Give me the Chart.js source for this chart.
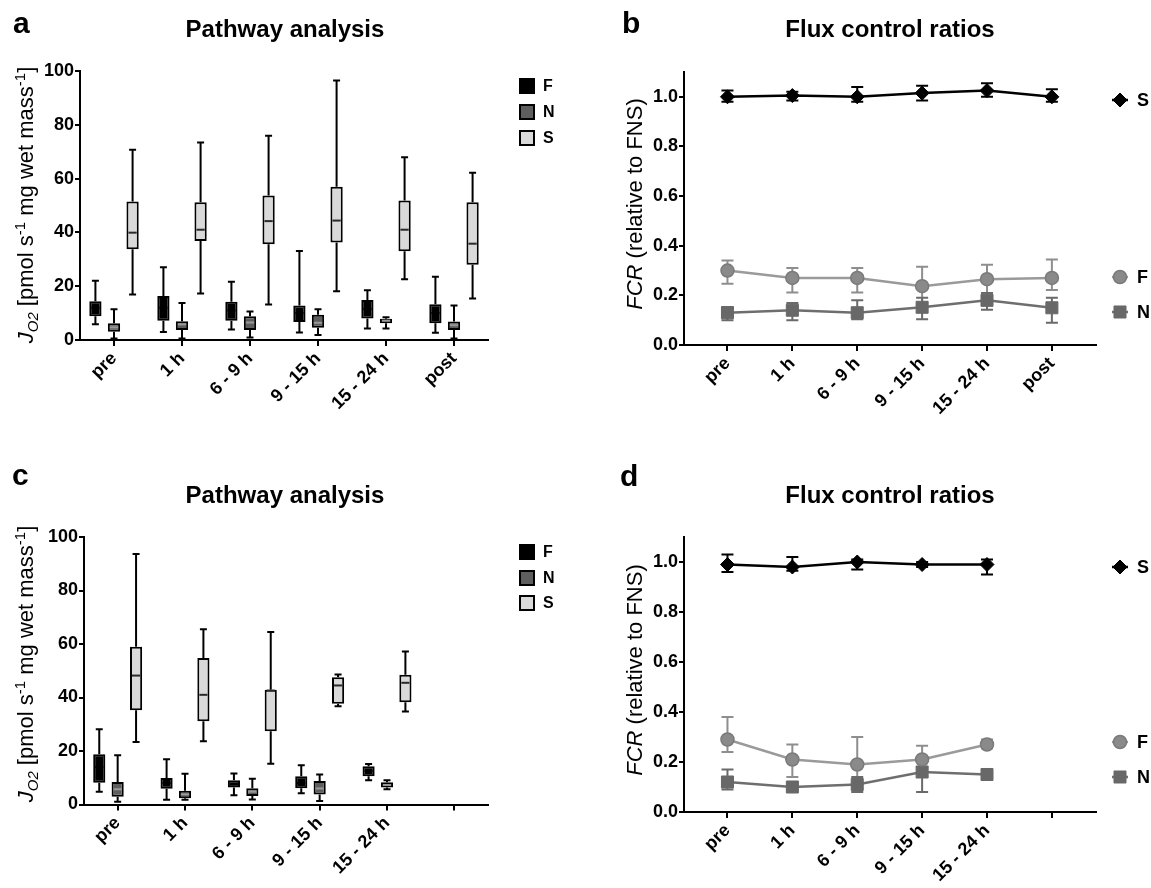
<!DOCTYPE html>
<html><head><meta charset="utf-8">
<script src="https://cdn.jsdelivr.net/npm/chart.js@4.4.1/dist/chart.umd.min.js"></script>
<style>
body{margin:0;background:#fff;width:1151px;height:888px;position:relative;overflow:hidden}
canvas{position:absolute;display:block}
</style>
</head><body>
<canvas id="ca" width="560" height="440" style="left:0;top:0"></canvas>
<canvas id="cb" width="591" height="440" style="left:560px;top:0"></canvas>
<canvas id="cc" width="560" height="448" style="left:0;top:440px"></canvas>
<canvas id="cd" width="591" height="448" style="left:560px;top:440px"></canvas>
<script>
// ---------- categories & tick labels ----------
const categoriesAB = ['pre', '1 h', '6 - 9 h', '9 - 15 h', '15 - 24 h', 'post'];
const categoriesCD = ['pre', '1 h', '6 - 9 h', '9 - 15 h', '15 - 24 h', ''];
const seriesNames = ['F', 'N', 'S'];
const yTicksJ = [0, 20, 40, 60, 80, 100];
const yTicksFCR = [0, 0.2, 0.4, 0.6, 0.8, 1.0];

// ---------- panel a: box plots (min, q1, median, q3, max) ----------
const aF_min = [5.9, 3.0, 3.9, 2.8, 4.3, 2.7];
const aF_q1  = [8.8, 7.2, 7.2, 6.7, 8.0, 6.2];
const aF_med = [12.0, 12.0, 11.0, 10.0, 11.5, 10.0];
const aF_q3  = [14.4, 16.4, 14.2, 12.8, 14.9, 13.3];
const aF_max = [22.0, 27.0, 21.7, 33.1, 18.5, 23.5];

const aN_min = [0.6, 0.6, 0.9, 1.9, 4.3, 0.6];
const aN_q1  = [3.1, 3.7, 3.7, 4.6, 6.2, 3.7];
const aN_med = [4.7, 5.8, 6.5, 6.4, 7.2, 5.5];
const aN_q3  = [6.2, 7.0, 8.8, 9.4, 7.9, 6.9];
const aN_max = [11.4, 13.8, 10.6, 11.4, 8.5, 12.8];

const aS_min = [16.9, 17.3, 13.2, 18.1, 22.6, 15.4];
const aS_q1  = [33.7, 36.8, 35.6, 36.2, 33.0, 28.0];
const aS_med = [39.9, 41.0, 44.2, 44.4, 41.0, 35.8];
const aS_q3  = [51.5, 51.2, 53.7, 57.0, 51.9, 51.2];
const aS_max = [70.7, 73.4, 75.9, 96.5, 67.9, 62.2];

// ---------- panel c: box plots ----------
const cF_min = [4.8, 1.8, 3.5, 4.2, 9.1];
const cF_q1  = [8.1, 5.9, 6.4, 6.1, 10.6];
const cF_med = [14.0, 8.0, 7.5, 8.0, 12.5];
const cF_q3  = [18.8, 9.9, 9.1, 10.6, 14.3];
const cF_max = [28.1, 16.9, 11.6, 14.7, 15.1];

const cN_min = [1.0, 1.8, 1.9, 1.3, 5.7];
const cN_q1  = [2.9, 2.3, 3.2, 3.7, 6.4];
const cN_med = [5.7, 3.8, 4.8, 6.0, 7.3];
const cN_q3  = [8.4, 5.1, 6.1, 8.8, 8.3];
const cN_max = [18.4, 11.5, 9.6, 11.2, 9.1];

const cS_min = [23.4, 23.6, 15.2, 36.7, 34.8];
const cS_q1  = [35.2, 31.1, 27.4, 37.7, 38.2];
const cS_med = [48.2, 41.0, 42.6, 44.5, 45.5];
const cS_q3  = [59.0, 54.8, 42.9, 47.6, 48.5];
const cS_max = [93.6, 65.5, 64.5, 48.6, 57.2];

// ---------- panel b: flux control ratios (mean, upper, lower) ----------
const bS = [1.00, 1.005, 1.00, 1.015, 1.025, 1.00];
const bS_hi = [1.025, 1.02, 1.04, 1.045, 1.055, 1.03];
const bS_lo = [0.98, 0.985, 0.98, 0.985, 1.00, 0.98];
const bF = [0.30, 0.27, 0.27, 0.237, 0.265, 0.27];
const bF_hi = [0.34, 0.31, 0.31, 0.315, 0.323, 0.345];
const bF_lo = [0.247, 0.212, 0.212, 0.16, 0.21, 0.222];
const bN = [0.13, 0.14, 0.13, 0.152, 0.18, 0.15];
const bN_hi = [0.153, 0.169, 0.18, 0.19, 0.21, 0.19];
const bN_lo = [0.10, 0.10, 0.104, 0.104, 0.142, 0.09];

// ---------- panel d ----------
const dS = [0.99, 0.98, 1.00, 0.99, 0.99];
const dS_hi = [1.03, 1.02, 1.01, 1.00, 1.01];
const dS_lo = [0.96, 0.965, 0.97, 0.98, 0.95];
const dF = [0.29, 0.21, 0.19, 0.21, 0.27];
const dF_hi = [0.38, 0.27, 0.30, 0.265, 0.29];
const dF_lo = [0.24, 0.14, 0.12, 0.16, 0.255];
const dN = [0.12, 0.10, 0.11, 0.16, 0.15];
const dN_hi = [0.17, 0.11, 0.14, 0.18, 0.16];
const dN_lo = [0.09, 0.09, 0.08, 0.08, 0.14];

// ---------- styling ----------
const FONT = '"Liberation Sans", Arial, Helvetica, sans-serif';
const BOX_FILL = {F: '#000000', N: '#5e5e5e', S: '#d9d9d9'};
const BOX_MED = {F: '#000000', N: '#9a9a9a', S: '#2a2a2a'};

const DECO = {};

function drawMarker(ctx, style, x, y, r, fill, stroke, bw) {
  ctx.save();
  ctx.fillStyle = fill; ctx.strokeStyle = stroke; ctx.lineWidth = bw;
  ctx.beginPath();
  if (style === 'circle') ctx.arc(x, y, r, 0, Math.PI * 2);
  else if (style === 'rectRot') { ctx.moveTo(x - r, y); ctx.lineTo(x, y - r); ctx.lineTo(x + r, y); ctx.lineTo(x, y + r); ctx.closePath(); }
  else { const s = r * Math.SQRT1_2; ctx.rect(x - s, y - s, 2 * s, 2 * s); }
  ctx.fill(); if (bw > 0) ctx.stroke();
  ctx.restore();
}

function drawRich(ctx, segs, baseX, centerY) {
  ctx.save();
  ctx.translate(baseX, centerY);
  ctx.rotate(-Math.PI / 2);
  let total = 0;
  const w = segs.map(s => { ctx.font = s.font; const m = ctx.measureText(s.t).width; total += m; return m; });
  let x = -total / 2;
  ctx.textBaseline = 'alphabetic'; ctx.textAlign = 'left'; ctx.fillStyle = '#000';
  segs.forEach((s, i) => { ctx.font = s.font; ctx.fillText(s.t, x, s.dy || 0); x += w[i]; });
  ctx.restore();
}

const decorPlugin = {
  id: 'decor',
  afterDraw(chart) {
    const d = DECO[chart.canvas.id];
    if (!d) return;
    const ctx = chart.ctx;
    ctx.save();
    ctx.fillStyle = '#000';
    ctx.textBaseline = 'alphabetic';
    ctx.font = 'bold 30px ' + FONT; ctx.textAlign = 'left';
    ctx.fillText(d.letter, d.letterX, d.letterY);
    ctx.font = 'bold 24px ' + FONT; ctx.textAlign = 'center';
    ctx.fillText(d.title, d.titleX, d.titleY);
    ctx.restore();
    drawRich(ctx, d.ytitle, d.ytX, d.ytY);
    // legend
    const ds = chart.data.datasets;
    d.legend.forEach(item => {
      const set = ds[item.idx];
      if (d.kind === 'box') {
        ctx.save();
        ctx.fillStyle = set.backgroundColor; ctx.strokeStyle = '#000'; ctx.lineWidth = 2;
        ctx.fillRect(d.legX - 7, item.y - 7, 14, 14);
        ctx.strokeRect(d.legX - 7, item.y - 7, 14, 14);
        ctx.restore();
      } else {
        ctx.save();
        ctx.strokeStyle = set.borderColor; ctx.lineWidth = 2.5;
        ctx.beginPath(); ctx.moveTo(d.legX - 8, item.y); ctx.lineTo(d.legX + 8, item.y); ctx.stroke();
        ctx.restore();
        drawMarker(ctx, set.pointStyle, d.legX, item.y, set.pointRadius, set.pointBackgroundColor, set.pointBorderColor, set.pointBorderWidth);
      }
      ctx.save();
      ctx.fillStyle = '#000'; ctx.font = 'bold ' + d.legFont + 'px ' + FONT;
      ctx.textAlign = 'left'; ctx.textBaseline = 'middle';
      ctx.fillText(set.label, d.legTextX, item.y + 1);
      ctx.restore();
    });
  }
};

const boxPlugin = {
  id: 'boxWhisk',
  beforeDatasetsDraw(chart) {
    const ctx = chart.ctx, ys = chart.scales.y;
    chart.data.datasets.forEach((ds, di) => {
      const meta = chart.getDatasetMeta(di);
      ctx.save(); ctx.strokeStyle = '#000'; ctx.lineWidth = 2;
      meta.data.forEach((el, i) => {
        if (ds.data[i] == null) return;
        const p = el.getProps(['x', 'width'], true);
        const cap = 3.5;
        const yMax = ys.getPixelForValue(ds.stats.max[i]);
        const yMin = ys.getPixelForValue(ds.stats.min[i]);
        const yQ3 = ys.getPixelForValue(ds.data[i][1]);
        const yQ1 = ys.getPixelForValue(ds.data[i][0]);
        ctx.beginPath();
        ctx.moveTo(p.x, yQ3); ctx.lineTo(p.x, yMax);
        ctx.moveTo(p.x - cap, yMax); ctx.lineTo(p.x + cap, yMax);
        ctx.moveTo(p.x, yQ1); ctx.lineTo(p.x, yMin);
        ctx.moveTo(p.x - cap, yMin); ctx.lineTo(p.x + cap, yMin);
        ctx.stroke();
      });
      ctx.restore();
    });
  },
  afterDatasetsDraw(chart) {
    const ctx = chart.ctx, ys = chart.scales.y;
    chart.data.datasets.forEach((ds, di) => {
      const meta = chart.getDatasetMeta(di);
      ctx.save(); ctx.strokeStyle = ds.medianColor; ctx.lineWidth = 2;
      meta.data.forEach((el, i) => {
        if (ds.data[i] == null) return;
        const p = el.getProps(['x', 'width'], true);
        const y = ys.getPixelForValue(ds.stats.med[i]);
        ctx.beginPath(); ctx.moveTo(p.x - p.width / 2 + 2, y); ctx.lineTo(p.x + p.width / 2 - 2, y); ctx.stroke();
      });
      ctx.restore();
    });
  }
};

const errPlugin = {
  id: 'errbars',
  beforeDatasetsDraw(chart) {
    const ctx = chart.ctx, ys = chart.scales.y;
    chart.data.datasets.forEach((ds, di) => {
      const meta = chart.getDatasetMeta(di);
      ctx.save(); ctx.strokeStyle = ds.errColor; ctx.lineWidth = 2;
      meta.data.forEach((pt, i) => {
        const yh = ys.getPixelForValue(ds.errHigh[i]);
        const yl = ys.getPixelForValue(ds.errLow[i]);
        ctx.beginPath();
        ctx.moveTo(pt.x, yh); ctx.lineTo(pt.x, yl);
        ctx.moveTo(pt.x - 6, yh); ctx.lineTo(pt.x + 6, yh);
        ctx.moveTo(pt.x - 6, yl); ctx.lineTo(pt.x + 6, yl);
        ctx.stroke();
      });
      ctx.restore();
    });
  }
};

const tickFont = {family: FONT, size: 18, weight: 'bold'};

function boxChart(id, cats, groups, lay) {
  const datasets = groups.map(g => ({
    label: g.label,
    data: g.q1.map((q, i) => [q, g.q3[i]]),
    stats: {min: g.min, med: g.med, max: g.max},
    backgroundColor: BOX_FILL[g.label], borderColor: '#000', borderWidth: 2, borderSkipped: false,
    medianColor: BOX_MED[g.label],
    categoryPercentage: 0.82, barPercentage: 0.66
  }));
  return new Chart(document.getElementById(id), {
    type: 'bar',
    data: {labels: cats, datasets},
    options: {
      responsive: false, animation: false, events: [],
      layout: {padding: lay.pad},
      plugins: {legend: {display: false}, tooltip: {enabled: false}},
      scales: {
        x: {type: 'category', offset: true,
            grid: {offset: false, drawOnChartArea: false, color: '#000', lineWidth: 2, tickLength: 6},
            border: {color: '#000', width: 2},
            ticks: {color: '#000', font: tickFont, minRotation: 45, maxRotation: 45, autoSkip: false, padding: 2},
            afterFit(s) { s.height = lay.xh; }},
        y: {min: 0, max: 100,
            afterBuildTicks(s) { s.ticks = yTicksJ.map(v => ({value: v})); },
            grid: {drawOnChartArea: false, color: '#000', lineWidth: 2, tickLength: 5},
            border: {color: '#000', width: 2},
            ticks: {color: '#000', font: tickFont, padding: 1},
            afterFit(s) { s.width = lay.yw; }}
      }
    },
    plugins: [boxPlugin, decorPlugin]
  });
}

function lineChart(id, cats, sets, lay) {
  const style = {
    S: {borderColor: '#000000', pointBackgroundColor: '#000000', pointBorderColor: '#000000', pointStyle: 'rectRot', pointRadius: 7, pointBorderWidth: 1, errColor: '#000000'},
    F: {borderColor: '#9a9a9a', pointBackgroundColor: '#8a8a8a', pointBorderColor: '#7a7a7a', pointStyle: 'circle', pointRadius: 6.5, pointBorderWidth: 1.5, errColor: '#8e8e8e'},
    N: {borderColor: '#6e6e6e', pointBackgroundColor: '#686868', pointBorderColor: '#686868', pointStyle: 'rect', pointRadius: 8.5, pointBorderWidth: 1, errColor: '#6a6a6a'}
  };
  const datasets = sets.map(s => Object.assign({
    label: s.label,
    data: s.v.map((v, i) => ({x: i, y: v})),
    errHigh: s.hi, errLow: s.lo,
    borderWidth: 2.5, tension: 0, fill: false
  }, style[s.label]));
  return new Chart(document.getElementById(id), {
    type: 'line',
    data: {datasets},
    options: {
      responsive: false, animation: false, events: [],
      layout: {padding: lay.pad},
      plugins: {legend: {display: false}, tooltip: {enabled: false}},
      scales: {
        x: {type: 'linear', min: -0.67, max: 5.68,
            afterBuildTicks(s) { s.ticks = cats.map((c, i) => ({value: i})); },
            grid: {drawOnChartArea: false, color: '#000', lineWidth: 2, tickLength: 6},
            border: {color: '#000', width: 2},
            ticks: {color: '#000', font: tickFont, minRotation: 45, maxRotation: 45, autoSkip: false, padding: 2,
                    callback: (v, i) => cats[i]},
            afterFit(s) { s.height = lay.xh; }},
        y: {min: 0, max: 1.1,
            afterBuildTicks(s) { s.ticks = yTicksFCR.map(v => ({value: v})); },
            grid: {drawOnChartArea: false, color: '#000', lineWidth: 2, tickLength: 5},
            border: {color: '#000', width: 2},
            ticks: {color: '#000', font: tickFont, padding: 1, callback: v => Number(v).toFixed(1)},
            afterFit(s) { s.width = lay.yw; }}
      }
    },
    plugins: [errPlugin, decorPlugin]
  });
}

const jTitle = [
  {t: 'J', font: 'italic 22px ' + FONT},
  {t: 'O2', font: 'italic 15px ' + FONT, dy: 5},
  {t: ' [pmol s', font: '22px ' + FONT},
  {t: '-1', font: '15px ' + FONT, dy: -8},
  {t: ' mg wet mass', font: '22px ' + FONT},
  {t: '-1', font: '15px ' + FONT, dy: -8},
  {t: ']', font: '22px ' + FONT}
];
const fcrTitle = [
  {t: 'FCR', font: 'italic 22px ' + FONT},
  {t: ' (relative to FNS)', font: '22px ' + FONT}
];

DECO.ca = {kind: 'box', letter: 'a', letterX: 13, letterY: 33, title: 'Pathway analysis', titleX: 285, titleY: 37,
  ytitle: jTitle, ytX: 33, ytY: 205, legX: 527, legTextX: 543, legFont: 16,
  legend: [{idx: 0, y: 86}, {idx: 1, y: 112}, {idx: 2, y: 138}]};
DECO.cc = {kind: 'box', letter: 'c', letterX: 12, letterY: 45, title: 'Pathway analysis', titleX: 285, titleY: 63,
  ytitle: jTitle, ytX: 33, ytY: 224, legX: 527, legTextX: 543, legFont: 16,
  legend: [{idx: 0, y: 112}, {idx: 1, y: 138}, {idx: 2, y: 163}]};
DECO.cb = {kind: 'line', letter: 'b', letterX: 62, letterY: 33, title: 'Flux control ratios', titleX: 330, titleY: 37,
  ytitle: fcrTitle, ytX: 82, ytY: 204, legX: 560, legTextX: 577, legFont: 18,
  legend: [{idx: 0, y: 100}, {idx: 1, y: 277}, {idx: 2, y: 312}]};
DECO.cd = {kind: 'line', letter: 'd', letterX: 60, letterY: 46, title: 'Flux control ratios', titleX: 330, titleY: 63,
  ytitle: fcrTitle, ytX: 82, ytY: 230, legX: 560, legTextX: 577, legFont: 18,
  legend: [{idx: 0, y: 127}, {idx: 1, y: 302}, {idx: 2, y: 337}]};

boxChart('ca', categoriesAB, [
  {label: seriesNames[0], min: aF_min, q1: aF_q1, med: aF_med, q3: aF_q3, max: aF_max},
  {label: seriesNames[1], min: aN_min, q1: aN_q1, med: aN_med, q3: aN_q3, max: aN_max},
  {label: seriesNames[2], min: aS_min, q1: aS_q1, med: aS_med, q3: aS_q3, max: aS_max}
], {pad: {left: 0, top: 71, right: 72, bottom: 0}, xh: 100, yw: 80});

boxChart('cc', categoriesCD, [
  {label: seriesNames[0], min: cF_min, q1: cF_q1, med: cF_med, q3: cF_q3, max: cF_max},
  {label: seriesNames[1], min: cN_min, q1: cN_q1, med: cN_med, q3: cN_q3, max: cN_max},
  {label: seriesNames[2], min: cS_min, q1: cS_q1, med: cS_med, q3: cS_q3, max: cS_max}
], {pad: {left: 0, top: 97, right: 72, bottom: 0}, xh: 83.5, yw: 84});

lineChart('cb', categoriesAB, [
  {label: 'S', v: bS, hi: bS_hi, lo: bS_lo},
  {label: 'F', v: bF, hi: bF_hi, lo: bF_lo},
  {label: 'N', v: bN, hi: bN_hi, lo: bN_lo}
], {pad: {left: 0, top: 72, right: 55, bottom: 0}, xh: 95, yw: 124});

lineChart('cd', categoriesCD, [
  {label: 'S', v: dS, hi: dS_hi, lo: dS_lo},
  {label: 'F', v: dF, hi: dF_hi, lo: dF_lo},
  {label: 'N', v: dN, hi: dN_hi, lo: dN_lo}
], {pad: {left: 0, top: 97, right: 55, bottom: 0}, xh: 76, yw: 124});
</script>
</body></html>
